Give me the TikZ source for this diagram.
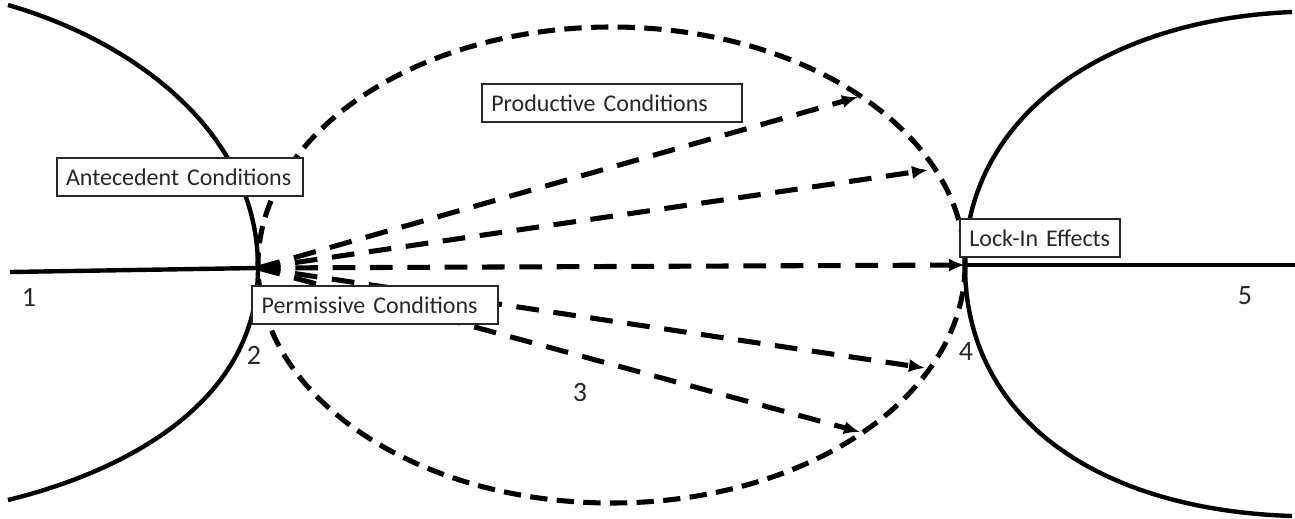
\documentclass[tikz,border=0pt]{standalone}
\usepackage{fontspec}
\setmainfont{Carlito}
\usetikzlibrary{arrows.meta}
\definecolor{textgray}{RGB}{40,40,40}
\definecolor{boxline}{RGB}{40,40,40}

\begin{document}
\begin{tikzpicture}[
  x=0.75pt, y=-0.75pt,
  bound/.style={line width=3.3pt},
  fan/.style={line width=3.8pt, dash pattern=on 13pt off 7pt},
  arr/.style={line width=3.8pt, dash pattern=on 17pt off 11pt, -{Latex[length=12pt,width=10pt]}},
  lbl/.style={draw=boxline, line width=1.5pt, fill=white, text=textgray, align=left, inner xsep=7pt, inner ysep=0pt, minimum height=29pt, font=\fontsize{18}{21}\selectfont},
  num/.style={text=textgray, inner sep=0pt, font=\fontsize{21}{24}\selectfont}]

\useasboundingbox (0,0) rectangle (1295,518);

% stage boundaries
\coordinate (crit) at (258,268);
\coordinate (lock) at (965,265);
\draw[bound] (8,5) .. controls (130,40) and (258,130) .. (crit) .. controls (258,400) and (130,470) .. (8,500);
\draw[bound] (1292,12) .. controls (1100,20) and (965,120) .. (lock) .. controls (965,420) and (1100,510) .. (1292,516);
\draw[bound] (10,272) -- (crit);
\draw[bound] (lock) -- (1295,265);

% critical juncture
\draw[fan] (611.5,265) ellipse [x radius=353.5, y radius=238];

\coordinate (p1) at (858,97);
\coordinate (p2) at (928,170);
\coordinate (p4) at (925,368);
\coordinate (p5) at (860,432);
\foreach \p in {p1,p2,lock,p4,p5}
  \draw[arr] (crit) -- (\p);

\node[lbl, text width=181pt] (prod) at (612,103) {Productive Conditions};
\node[lbl, text width=171pt] (ante) at (180,177) {Antecedent Conditions};
\node[lbl, text width=170pt] (perm) at (375,305) {Permissive Conditions};
\node[lbl, text width=106pt] (lockin) at (1040,238) {Lock-In Effects};

\node[num] (n1) at (29,297) {1};
\node[num] (n2) at (254,355) {2};
\node[num] (n3) at (580,393) {3};
\node[num] (n4) at (966,352) {4};
\node[num] (n5) at (1245,296) {5};
\end{tikzpicture}
\end{document}
